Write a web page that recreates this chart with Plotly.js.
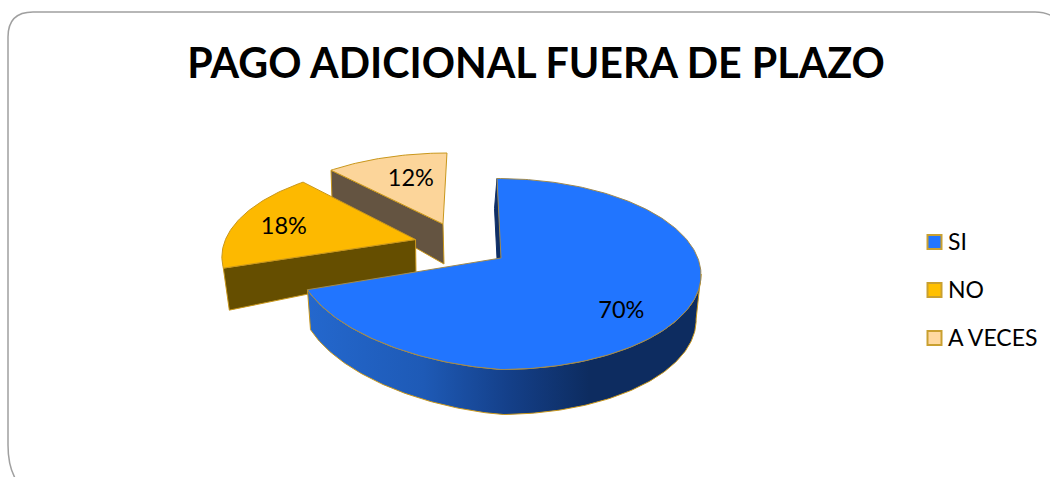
<!DOCTYPE html>
<html>
<head>
<meta charset="utf-8">
<script src="https://cdn.plot.ly/plotly-3.0.1.min.js"></script>
<style>html,body{margin:0;padding:0;background:#fff}#chart{width:1050px;height:477px}</style>
</head>
<body>
<div id="chart"></div>
<script>
// Data
const categories = ['SI', 'NO', 'A VECES'];
const values = [70, 18, 12];
const chartTitle = 'PAGO ADICIONAL FUERA DE PLAZO';

// Style
const topColors = ['#2175FF', '#FDB900', '#FCD59A'];
const wallColors = ['#0D2C60', '#654E00', '#645441'];
const swatchColors = ['#2175FF', '#FFC000', '#FFD9A0'];
const edgeColor = '#C9971C';
const fontFamily = 'Lato, "Open Sans", sans-serif';

// View of each (exploded) slice: projected apex, rim centre offset, radii, shear, perspective
const apexX = [501, 415.5, 443];
const apexY = [258, 239.5, 224];
const rimShiftX = [-2, 0, 0];
const rimShiftY = [16, 0, 0];
const radX = [202, 190, 187.8];
const radY = [95.5, 88, 82.5];
const shear = [2, -6, -4.6];
const perspX = [0, 0.162, 0.162];
const perspY = [0, 0.162, 0.162];
const frontLift = [14.5, 0, 0];
const labelFracX = [0.74, 0.75, 0.57];
const labelFracY = [0.72, 0.64, 0.69];
const labelDrop = 2.5;
const legendX = 934.5;
const legendTextX = 948;
const legendY = [242, 290, 338];
const legendTextDrop = 2;

const total = values.reduce((a, b) => a + b, 0);
function proj(i, deg) {
  const th = deg * Math.PI / 180, u = Math.sin(th), t = -Math.cos(th);
  const lift = (u < 0 && t > 0) ? frontLift[i] * Math.abs(u) : 0;
  return [apexX[i] + rimShiftX[i] + (radX[i] * u + shear[i] * t) / (1 - perspX[i] * t),
          apexY[i] + rimShiftY[i] + radY[i] * t / (1 - perspY[i] * t) - lift];
}
let cum = 0;
const spans = values.map(v => { const s = [cum / total * 360, (cum + v) / total * 360]; cum += v; return s; });
function rim(i, a0, a1) {
  const pts = [], n = Math.max(2, Math.ceil(Math.abs(a1 - a0)));
  for (let k = 0; k <= n; k++) pts.push(proj(i, a0 + (a1 - a0) * k / n));
  return pts;
}
function poly(pts, extra) {
  return Object.assign({
    x: pts.map(p => p[0]).concat([pts[0][0]]),
    y: pts.map(p => p[1]).concat([pts[0][1]]),
    type: 'scatter', mode: 'lines', fill: 'toself', showlegend: false, hoverinfo: 'skip'
  }, extra);
}
const thin = c => ({ color: c, width: 1 });
const traces = [];

// A VECES: cut-face wall, then top
{
  const i = 2, c = proj(i, spans[i][0]), a = [apexX[i], apexY[i]];
  traces.push(poly([c, a, [a[0] + 1, a[1] + 40], [c[0] + 1, c[1] + 30]], { fillcolor: wallColors[i], line: thin(edgeColor) }));
  traces.push(poly([a].concat(rim(i, spans[i][0], spans[i][1])), { fillcolor: topColors[i], line: thin(edgeColor) }));
}
// NO
{
  const i = 1, c = proj(i, spans[i][0]), a = [apexX[i], apexY[i]];
  traces.push(poly([c, a, [a[0] + 0.5, a[1] + 32.5], [c[0] + 6, c[1] + 42]], { fillcolor: wallColors[i], line: thin(edgeColor) }));
  traces.push(poly([a].concat(rim(i, spans[i][0], spans[i][1])), { fillcolor: topColors[i], line: thin(edgeColor) }));
}
// SI: back sliver, curved wall with gradient, top
{
  const i = 0, a = [apexX[i], apexY[i]], r0 = proj(i, 0);
  traces.push(poly([r0, a, [a[0] - 2.5, a[1] + 30], [r0[0] - 2.5, r0[1] + 30]], { fillcolor: '#0F2F66', line: thin('#0F2F66') }));
  const top = rim(i, 90, spans[i][1]);
  const bottom = top.map(p => [p[0] - (p[0] - 458) * 0.02, p[1] + 40 + 5 * Math.min(1, (p[0] - 308) / 195)]).reverse();
  traces.push(poly(top.concat(bottom), {
    line: thin(edgeColor),
    fillgradient: {
      type: 'horizontal', start: 305, stop: 700,
      colorscale: [[0, '#2468CE'], [0.3, '#1E5AB6'], [0.52, '#143F88'], [0.72, '#0D2C60'], [1, '#0D2C60']]
    }
  }));
  traces.push(poly([a].concat(rim(i, spans[i][0], spans[i][1])), { fillcolor: topColors[i], line: thin('#A08A50') }));
}
// Percent labels
const labelPts = values.map((v, i) => {
  const mid = (spans[i][0] + spans[i][1]) / 2, p = proj(i, mid);
  return [apexX[i] + (p[0] - apexX[i]) * labelFracX[i], apexY[i] + (p[1] - apexY[i]) * labelFracY[i] + labelDrop];
});
traces.push({
  x: labelPts.map(p => p[0]), y: labelPts.map(p => p[1]),
  text: values.map(v => v + '%'),
  type: 'scatter', mode: 'text', textposition: 'middle center',
  textfont: { family: fontFamily, size: 23.5, color: '#000' }, showlegend: false, hoverinfo: 'skip'
});
// Legend keys and names
traces.push({
  x: categories.map(() => legendX), y: legendY,
  type: 'scatter', mode: 'markers',
  marker: { symbol: 'square', size: 14, color: swatchColors, line: { color: '#C9A030', width: 2 } },
  showlegend: false, hoverinfo: 'skip'
});
traces.push({
  x: categories.map(() => legendTextX), y: legendY.map(y => y + legendTextDrop), text: categories,
  type: 'scatter', mode: 'text', textposition: 'middle right',
  textfont: { family: fontFamily, size: 23, color: '#000' },
  showlegend: false, hoverinfo: 'skip'
});

const layout = {
  width: 1050, height: 477,
  margin: { l: 0, r: 0, t: 0, b: 0 },
  paper_bgcolor: '#fff', plot_bgcolor: '#fff',
  title: {
    text: '<b>' + chartTitle + '</b>', x: 536 / 1050, xanchor: 'center', y: 1 - 64 / 477, yanchor: 'middle',
    font: { family: fontFamily, size: 41.2, color: '#000' }
  },
  xaxis: { range: [0, 1050], visible: false, fixedrange: true },
  yaxis: { range: [477, 0], visible: false, fixedrange: true },
  shapes: [{
    type: 'path', layer: 'below',
    path: 'M 15 478 Q 8 465 8 445 L 8 37 Q 8 12 33 12 L 1035 12 Q 1045 12 1052 16',
    line: { color: '#A0A0A0', width: 1.5 }
  }],
  showlegend: false
};
Plotly.newPlot('chart', traces, layout, { displayModeBar: false });
</script>
</body>
</html>
